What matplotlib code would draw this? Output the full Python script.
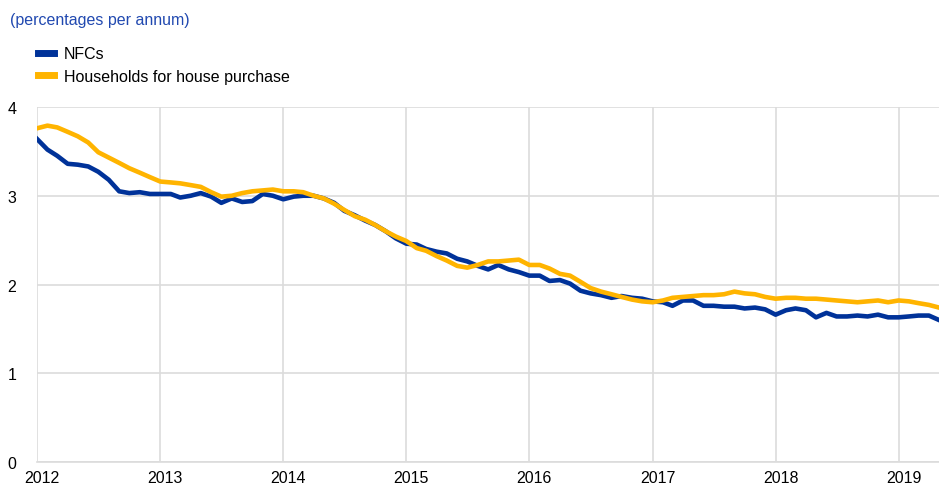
import matplotlib
matplotlib.use('Agg')
import matplotlib.pyplot as plt
import matplotlib.dates as mdates
import matplotlib.transforms as mtransforms
import pandas as pd

# monthly data, Jan 2012 - May 2019
months = pd.date_range('2012-01-01', '2019-05-01', freq='MS')

nfc = [
    3.64, 3.52, 3.45, 3.36, 3.35, 3.33, 3.27, 3.18, 3.05, 3.03, 3.04, 3.02,  # 2012
    3.02, 3.02, 2.98, 3.00, 3.03, 2.99, 2.92, 2.97, 2.93, 2.94, 3.02, 3.00,  # 2013
    2.96, 2.99, 3.00, 3.00, 2.97, 2.92, 2.83, 2.78, 2.72, 2.67, 2.60, 2.52,  # 2014
    2.46, 2.45, 2.40, 2.37, 2.35, 2.29, 2.26, 2.21, 2.17, 2.22, 2.17, 2.14,  # 2015
    2.10, 2.10, 2.04, 2.05, 2.01, 1.93, 1.90, 1.88, 1.85, 1.87, 1.85, 1.84,  # 2016
    1.81, 1.80, 1.76, 1.82, 1.82, 1.76, 1.76, 1.75, 1.75, 1.73, 1.74, 1.72,  # 2017
    1.66, 1.71, 1.73, 1.71, 1.63, 1.68, 1.64, 1.64, 1.65, 1.64, 1.66, 1.63,  # 2018
    1.63, 1.64, 1.65, 1.65, 1.60,                                            # 2019
]

households = [
    3.76, 3.79, 3.77, 3.72, 3.67, 3.60, 3.49, 3.43, 3.37, 3.31, 3.26, 3.21,  # 2012
    3.16, 3.15, 3.14, 3.12, 3.10, 3.04, 2.99, 3.00, 3.03, 3.05, 3.06, 3.07,  # 2013
    3.05, 3.05, 3.04, 3.00, 2.97, 2.91, 2.84, 2.77, 2.73, 2.67, 2.60, 2.54,  # 2014
    2.49, 2.41, 2.38, 2.32, 2.27, 2.21, 2.19, 2.22, 2.26, 2.26, 2.27, 2.28,  # 2015
    2.22, 2.22, 2.18, 2.12, 2.10, 2.03, 1.96, 1.92, 1.89, 1.86, 1.83, 1.81,  # 2016
    1.80, 1.82, 1.85, 1.86, 1.87, 1.88, 1.88, 1.89, 1.92, 1.90, 1.89, 1.86,  # 2017
    1.84, 1.85, 1.85, 1.84, 1.84, 1.83, 1.82, 1.81, 1.80, 1.81, 1.82, 1.80,  # 2018
    1.82, 1.81, 1.79, 1.77, 1.74,                                            # 2019
]

labels = ['NFCs', 'Households for house purchase']
colors = ['#003299', '#FFB400']
subtitle = '(percentages per annum)'

plt.rcParams['font.family'] = ['Liberation Sans', 'DejaVu Sans']
FS = 11.5

fig = plt.figure(figsize=(9.39, 4.89), dpi=100)
ax = fig.add_axes([37 / 939, 1 - 463 / 489, 1 - 37 / 939, (463 - 108) / 489])

ax.plot(months, nfc, color=colors[0], lw=3.3, label=labels[0])
ax.plot(months, households, color=colors[1], lw=3.3, label=labels[1])

ax.set_xlim(months[0], months[-1])
ax.set_ylim(0, 4)
ax.set_yticks([0, 1, 2, 3, 4])
ax.xaxis.set_major_locator(mdates.YearLocator())
ax.xaxis.set_major_formatter(mdates.DateFormatter('%Y'))

ax.grid(True, color='#dcdcdc', lw=1.2)
ax.set_axisbelow(True)
for side in ['top', 'right', 'left']:
    ax.spines[side].set_visible(False)
ax.spines['bottom'].set_color('#dcdcdc')
ax.spines['bottom'].set_linewidth(1.2)
ax.tick_params(axis='both', length=0, labelsize=FS, colors='black')
ax.tick_params(axis='y', pad=15)
ax.tick_params(axis='x', pad=6)

# shift year labels a little to the right, as in the original
offset = mtransforms.ScaledTranslation(5 / 100, 0, fig.dpi_scale_trans)
for lab in ax.get_xticklabels():
    lab.set_transform(lab.get_transform() + offset)

fig.text(10 / 939, 1 - 20 / 489, subtitle, color='#2149b0', fontsize=FS,
         va='center', ha='left')

leg = fig.legend(loc='upper left', bbox_to_anchor=(32 / 939, 1 - 41 / 489),
                 frameon=False, fontsize=FS, handlelength=1.0,
                 handletextpad=0.6, labelspacing=0.45, borderaxespad=0)
for line in leg.get_lines():
    line.set_linewidth(5)

fig.savefig('out.png', dpi=100)
